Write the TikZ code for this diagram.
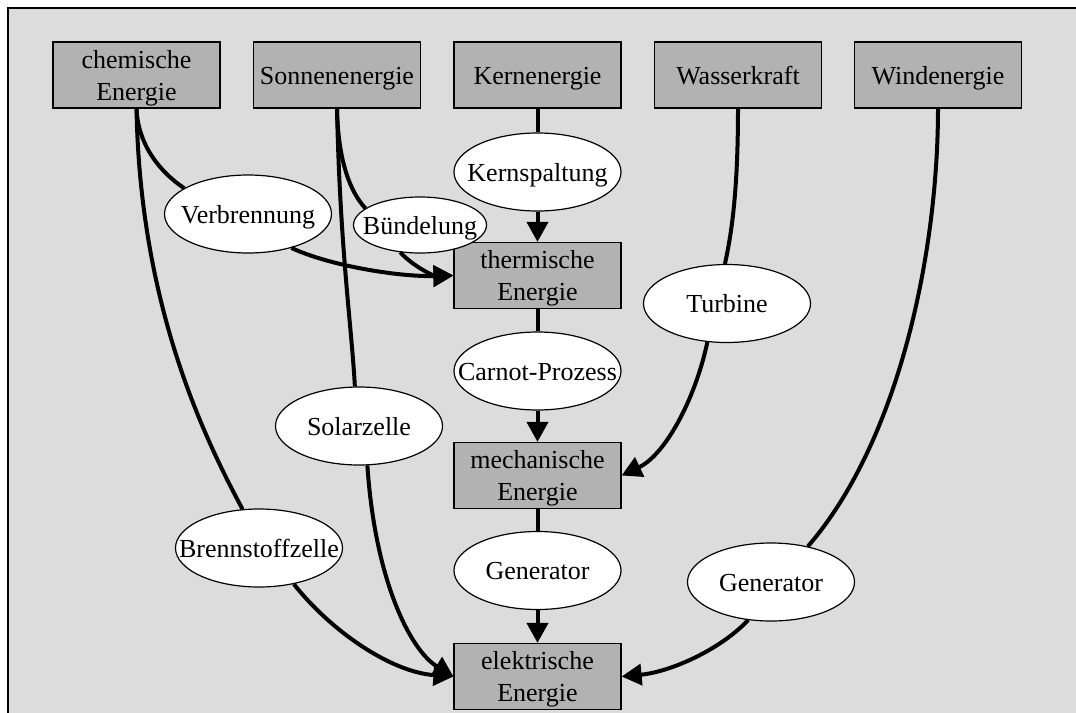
\documentclass[tikz,border=0pt]{standalone}
\usepackage{fontspec}
\setmainfont{Liberation Serif}
\usetikzlibrary{shapes.geometric}
\usetikzlibrary{arrows.meta}
\definecolor{bgfill}{gray}{0.863}
\definecolor{boxfill}{gray}{0.70}
\newcommand{\ztext}[1]{\makebox[0pt]{#1}}
\newcommand{\zstrut}{\rule[-8pt]{0pt}{34pt}}

\begin{document}
\begin{tikzpicture}[x=1pt,y=-1pt,
      every node/.style={font=\fontsize{26}{32}\selectfont,execute at begin node=\zstrut},
      box/.style={shape=rectangle,draw,line width=1.2pt,fill=boxfill,align=center,
        minimum width=167pt,minimum height=66pt,inner sep=0pt},
      box2/.style={box,text height=58pt,text depth=8pt},
      proc/.style={shape=ellipse,draw,line width=1.2pt,fill=white,
        minimum width=167pt,minimum height=78pt,inner sep=0pt},
      flow/.style={line width=4pt},
      arr/.style={flow,-{Triangle[length=20pt,width=21pt]}}]
  \useasboundingbox (0,0) rectangle (1076,712);
  \fill[white] (0,0) rectangle (1076,712);
  \draw[line width=1.2pt,fill=bgfill] (8,8) rectangle (1100,740);

  % Quellen
  \node[box2] (chem) at (136.5,75) {chemische\\Energie};
  \node[box] (sonne) at (337,75) {Sonnenenergie};
  \node[box] (kern) at (537.5,75) {Kernenergie};
  \node[box] (wasser) at (738,75) {Wasserkraft};
  \node[box] (wind) at (938,75) {Windenergie};

  % Zwischenformen
  \node[box2] (therm) at (537.5,275.5) {thermische\\Energie};
  \node[box2] (mech) at (537.5,475.5) {mechanische\\Energie};
  \node[box2] (elek) at (537.5,676.5) {elektrische\\Energie};

  % Prozesse
  \node[proc] (spalt) at (537.5,172) {\ztext{Kernspaltung}};
  \node[proc] (verb) at (248,214) {\ztext{Verbrennung}};
  \node[proc,minimum width=133pt,minimum height=56pt] (bund) at (420,225) {\ztext{Bündelung}};
  \node[proc] (carnot) at (537.5,371) {\ztext{Carnot-Prozess}};
  \node[proc] (turb) at (727,303.5) {\ztext{Turbine}};
  \node[proc] (solar) at (359,426) {\ztext{Solarzelle}};
  \node[proc] (brenn) at (259,548) {\ztext{Brennstoffzelle}};
  \node[proc] (gen) at (537.5,570.5) {\ztext{Generator}};
  \node[proc] (gen2) at (771,582) {\ztext{Generator}};

  % Verbindungen
  \draw[flow] (chem.south) .. controls (138,145) and (160,172) .. (verb.158);
  \draw[arr] (verb.-38) .. controls (330,266) and (400,277) .. (therm.west);
  \draw[flow] (chem.south) .. controls (140,300) and (200,430) .. (brenn.113);
  \draw[arr] (brenn.-46) .. controls (330,630) and (390,672) .. (elek.west);
  \draw[flow] (sonne.south) .. controls (338,160) and (350,192) .. (bund.163);
  \draw[arr] (bund.234) .. controls (415,268) and (435,276) .. (therm.west);
  \draw[flow] (sonne.south) .. controls (340,250) and (352,330) .. (solar.96);
  \draw[arr] (solar.-78) .. controls (375,580) and (410,650) .. (elek.west);
  \draw[flow] (kern) -- (spalt);
  \draw[arr] (spalt) -- (therm);
  \draw[flow] (therm) -- (carnot);
  \draw[arr] (carnot) -- (mech);
  \draw[flow] (mech) -- (gen);
  \draw[arr] (gen) -- (elek);
  \draw[flow] (wasser.south) .. controls (738,200) and (730,240) .. (turb.93);
  \draw[arr] (turb.-117) .. controls (695,400) and (665,455) .. (mech.east);
  \draw[flow] (wind.south) .. controls (938,250) and (900,440) .. (gen2.44);
  \draw[arr] (gen2.-121) .. controls (720,650) and (670,672) .. (elek.east);
\end{tikzpicture}
\end{document}
